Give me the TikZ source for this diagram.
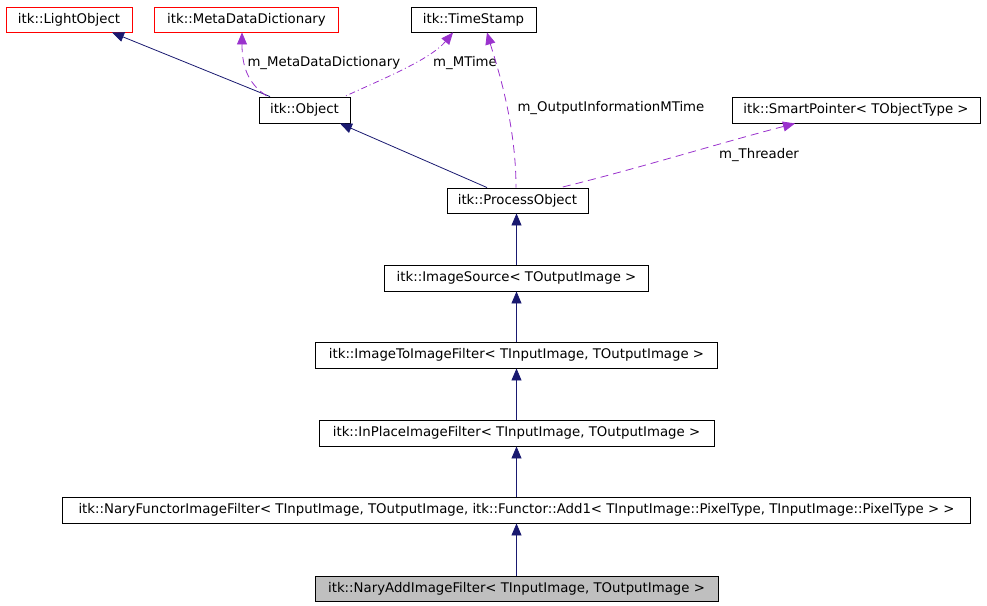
\documentclass[tikz,border=0pt]{standalone}
\usepackage{fontspec}
\setmainfont{DejaVu Sans}
\usetikzlibrary{arrows.meta}
\definecolor{inhcol}{HTML}{191970}
\definecolor{usecol}{HTML}{9A32CD}
\definecolor{extcol}{HTML}{FF0000}
\definecolor{curfill}{HTML}{BFBFBF}
\begin{document}
\begin{tikzpicture}[x=1pt, y=-1pt, >={Triangle[length=12pt,width=10pt]},
		every node/.style={font=\fontsize{13.3}{15}\selectfont},
		cls/.style={draw=black, line width=0.9pt, inner sep=0pt, minimum height=25pt},
		ext/.style={cls, draw=extcol},
		cur/.style={cls, fill=curfill},
		inh/.style={<-, draw=inhcol, line width=0.8pt},
		use/.style={<-, draw=usecol, line width=0.8pt, dash pattern=on 8pt off 5pt},
		usedot/.style={use, dash pattern=on 6pt off 3pt on 1pt off 3pt}]
			%\draw[dotted] (0,0) grid[step=50pt] (987,605);
			\useasboundingbox (0,0) rectangle (987,605);
			\draw
			node [ext, minimum width=126pt] (light) at (69,19.5) {itk::LightObject}
			node [ext, minimum width=184pt] (meta) at (246.5,19.5) {itk::MetaDataDictionary}
			node [cls, minimum width=125pt] (stamp) at (473.5,19.5) {itk::TimeStamp}
			node [cls, minimum width=91pt, minimum height=26pt] (object) at (304.5,110) {itk::Object}
			node [cls, minimum width=248pt, minimum height=26pt] (smart) at (856,110) {itk::SmartPointer< TObjectType >}
			node [cls, minimum width=141pt] (process) at (517.5,200.5) {itk::ProcessObject}
			node [cls, minimum width=264pt, minimum height=26pt] (source) at (516.5,278) {itk::ImageSource< TOutputImage >}
			node [cls, minimum width=402pt, minimum height=26pt] (i2i) at (516.5,355) {itk::ImageToImageFilter< TInputImage, TOutputImage >}
			node [cls, minimum width=395pt, minimum height=26pt] (inplace) at (516.5,433) {itk::InPlaceImageFilter< TInputImage, TOutputImage >}
			node [cls, minimum width=908pt, minimum height=26pt] (functor) at (516.5,510) {itk::NaryFunctorImageFilter< TInputImage, TOutputImage, itk::Functor::Add1< TInputImage::PixelType, TInputImage::PixelType > >}
			node [cur, minimum width=403pt] (add) at (516.5,588.5) {itk::NaryAddImageFilter< TInputImage, TOutputImage >};
			% member labels
			\draw
			node [anchor=west] (lmeta) at (244,63) {m\_MetaDataDictionary}
			node (lmtime) at (465,63) {m\_MTime}
			node [anchor=west] (loutput) at (514,108) {m\_OutputInformationMTime}
			node (lthreader) at (759,155) {m\_Threader};
			% inheritance
			\draw [inh] ([xshift=43pt]light.south) -- ([xshift=-34.5pt]object.north);
			\draw [inh] ([xshift=35.5pt]object.south) -- ([xshift=-30.5pt]process.north);
			\foreach \up/\down in {process/source, source/i2i, i2i/inplace, inplace/functor, functor/add}{
				\draw [inh] (\down.north |- \up.south) -- (\down.north);
			}
			% usage
			\draw [use] ([xshift=-4.5pt]meta.south) .. controls (242,70) and (250,85) .. ([xshift=-37pt]object.north);
			\draw [usedot] ([xshift=-20.5pt]stamp.south) .. controls (430,60) and (380,80) .. ([xshift=40pt]object.north);
			\draw [use] ([xshift=13.5pt]stamp.south) .. controls (495,60) and (516,120) .. ([xshift=-1.5pt]process.north);
			\draw [use] ([xshift=-61pt]smart.south) .. controls (720,143) and (640,168) .. ([xshift=43pt]process.north);
	\end{tikzpicture}
\end{document}
